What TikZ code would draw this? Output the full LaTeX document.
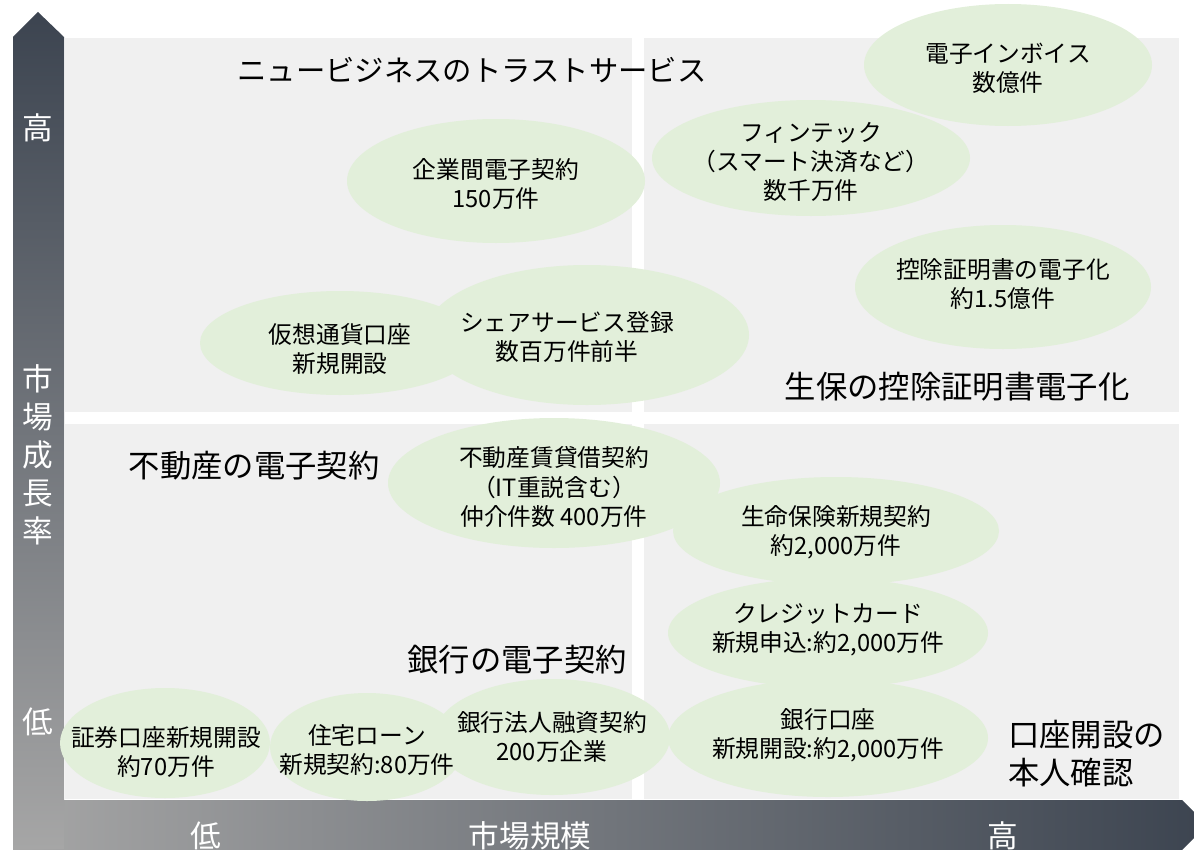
\documentclass[tikz,border=0pt]{standalone}
\usepackage{fontspec}
\newfontfamily\jpfont{Noto Sans CJK JP}
\usetikzlibrary{positioning}
\definecolor{bubblegreen}{HTML}{E2EFDA}
\definecolor{panelgray}{HTML}{F0F0F0}
\definecolor{axisdark}{HTML}{3C4450}
\definecolor{axislight}{HTML}{A6A6A6}

\begin{document}
\begin{tikzpicture}[
  x=0.75pt, y=-0.75pt,
  every node/.style={font=\jpfont, inner sep=0pt},
  panel/.style ={fill=panelgray},
  bubble/.style={fill=bubblegreen},
  note/.style  ={align=center, font=\jpfont\fontsize{17.8}{21.8}\selectfont},
  theme/.style ={align=center, font=\jpfont\fontsize{23.5}{28.5}\selectfont},
  axlab/.style ={align=center, text=white, font=\jpfont\fontsize{23}{28.5}\selectfont},
]
  \path[use as bounding box, clip] (0,0) rectangle (1194,849);
  % axes
  \shade[left color=axislight, right color=axisdark]
    (13,800) -- (1182,800) -- (1207,825) -- (1182,850) -- (13,850) -- cycle;
  \shade[top color=axisdark, bottom color=axislight]
    (13,37) -- (38,12) -- (64,37) -- (64,849) -- (13,849) -- cycle;
  % quadrants
  \foreach \a/\b/\c/\d in {65/38/632/412, 644/38/1179/412, 65/424/632/799, 644/424/1179/799}
    \fill[panel] (\a,\b) rectangle (\c,\d);
  % bubbles
  \foreach \x/\y/\a/\b in {1008/65/144/61, 811/158/159/58, 496/181/149/62, 1003/287/148/62,
      340/343/140/52, 587/335/162/70, 554/483/166/65, 836/531/163/54, 828/633/160/55,
      828/738/160/59, 165/743/105/55, 367/747/97/54, 552/737/118/58}
    \fill[bubble] (\x,\y) ellipse [x radius=\a, y radius=\b];
  \foreach \n/\x/\y/\t in {
      inv/1008/68/{電子インボイス\\数億件},
      fin/811/162/{フィンテック\\（スマート決済など）\\数千万件},
      btob/496/184/{企業間電子契約\\150万件},
      ded/1003/284/{控除証明書の電子化\\約1.5億件},
      cry/340/349/{仮想通貨口座\\新規開設},
      shr/567/337/{シェアサービス登録\\数百万件前半},
      rent/554/487/{不動産賃貸借契約\\（IT重説含む）\\仲介件数 400万件},
      life/836/532/{生命保険新規契約\\約2,000万件},
      card/828/630/{クレジットカード\\新規申込:約2,000万件},
      bank/828/735/{銀行口座\\新規開設:約2,000万件},
      sec/166/752/{証券口座新規開設\\約70万件},
      home/367/750/{住宅ローン\\新規契約:80万件},
      corp/552/737/{銀行法人融資契約\\200万企業}}
    \node[note] (\n) at (\x,\y) {\t};
  % themes
  \node[theme, font=\jpfont\fontsize{22}{28.5}\selectfont] (newbiz) at (472,70) {ニュービジネスのトラストサービス};
  \node[theme] (seiho)  at (957,387) {生保の控除証明書電子化};
  \node[theme] (fudo)   at (254,466) {不動産の電子契約};
  \node[theme] (ginko)  at (517,660) {銀行の電子契約};
  \node[theme, anchor=west, align=left] (kyc) at (1008,754) {口座開設の\\本人確認};
  % axis labels
  \node[axlab] (yhi)  at (38,128)  {高};
  \node[axlab] (ylab) at (38,455)  {市\\場\\成\\長\\率};
  \node[axlab] (ylo)  at (38,722)  {低};
  \node[axlab] (xlo)  at (206,836) {低};
  \node[axlab] (xlab) at (530,836) {市場規模};
  \node[axlab] (xhi)  at (1003,836) {高};
\end{tikzpicture}
\end{document}
